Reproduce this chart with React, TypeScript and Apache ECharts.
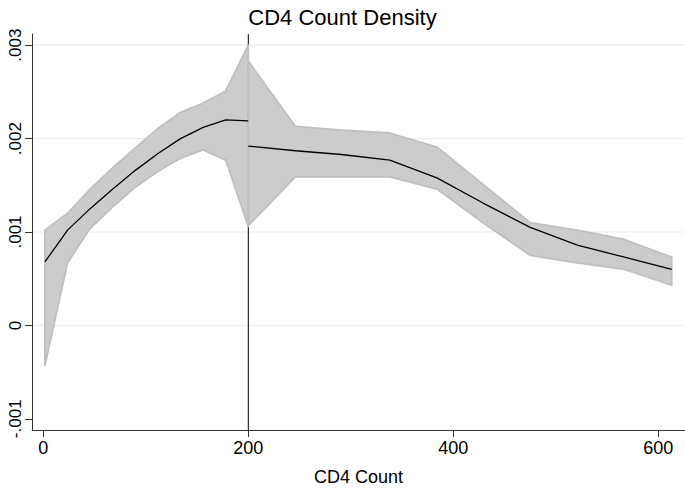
import React, { useEffect, useRef } from "react";
import * as echarts from "echarts";

const TITLE = "CD4 Count Density";
const X_NAME = "CD4 Count";
const X_TICKS = [0, 200, 400, 600];
const Y_TICKS = [-0.001, 0, 0.001, 0.002, 0.003];
const Y_TICK_LABELS = ["-.001", "0", ".001", ".002", ".003"];
const GRID_VALUES = [0, 0.001, 0.002, 0.003];
const CUTOFF = 200;

// left of cutoff
const LEFT_X = [1.6, 23.7, 45.7, 67.8, 89.8, 111.9, 133.9, 156.0, 178.0, 200];
const LEFT_FIT = [0.00068, 0.00102, 0.00125, 0.00146, 0.00166, 0.00184, 0.002, 0.00212, 0.0022, 0.00219];
const LEFT_UPPER = [0.00102, 0.0012, 0.00146, 0.00169, 0.0019, 0.00211, 0.00228, 0.00238, 0.00251, 0.003];
const LEFT_LOWER = [-0.00043, 0.00067, 0.00104, 0.00127, 0.00148, 0.00165, 0.00179, 0.00188, 0.00177, 0.00106];

// right of cutoff
const RIGHT_X = [200, 246, 291, 338, 384, 429, 475, 521, 567, 613];
const RIGHT_FIT = [0.00192, 0.00187, 0.00183, 0.00177, 0.00158, 0.00131, 0.00105, 0.00086, 0.00073, 0.0006];
const RIGHT_UPPER = [0.00283, 0.00213, 0.00209, 0.00206, 0.00191, 0.00151, 0.0011, 0.00102, 0.00092, 0.00073];
const RIGHT_LOWER = [0.00107, 0.00159, 0.00159, 0.00159, 0.00146, 0.0011, 0.00075, 0.00067, 0.0006, 0.00043];

const X_MIN = -11;
const X_MAX = 626;
const Y_MIN = -0.00112;
const Y_MAX = 0.00312;

const FONT = "Liberation Sans, Arial, Helvetica, sans-serif";

function pairs(xs: number[], ys: number[]) {
  return xs.map((x, i) => [x, ys[i]]);
}

export default function App() {
  const ref = useRef<HTMLDivElement>(null);

  useEffect(() => {
    if (!ref.current) return;
    const chart = echarts.init(ref.current, undefined, { renderer: "svg" });
    const bands = [
      { xs: LEFT_X, up: LEFT_UPPER, lo: LEFT_LOWER },
      { xs: RIGHT_X, up: RIGHT_UPPER, lo: RIGHT_LOWER },
    ];
    const option: any = {
      animation: false,
      backgroundColor: "#ffffff",
      textStyle: { fontFamily: FONT },
      title: {
        text: TITLE,
        left: "center",
        top: 1,
        textStyle: { fontSize: 22, fontWeight: "normal", color: "#000", fontFamily: FONT },
      },
      grid: { left: 32, right: 0, top: 34, bottom: 53, containLabel: false },
      xAxis: {
        type: "value",
        min: X_MIN,
        max: X_MAX,
        name: X_NAME,
        nameLocation: "middle",
        nameGap: 38,
        nameTextStyle: { fontSize: 18, color: "#000", fontFamily: FONT },
        axisLine: { show: true, onZero: false, lineStyle: { color: "#333", width: 1 } },
        axisTick: { show: true, customValues: X_TICKS, length: 7, lineStyle: { color: "#333" } },
        axisLabel: {
          customValues: X_TICKS,
          fontSize: 18,
          color: "#000",
          margin: 9,
          fontFamily: FONT,
          formatter: (v: number) => String(Math.round(v)),
        },
        splitLine: { show: false },
      },
      yAxis: {
        type: "value",
        min: Y_MIN,
        max: Y_MAX,
        axisLine: { show: true, onZero: false, lineStyle: { color: "#333", width: 1 } },
        axisTick: { show: true, customValues: Y_TICKS, length: 7, lineStyle: { color: "#333" } },
        axisLabel: {
          customValues: Y_TICKS,
          rotate: 90,
          fontSize: 17,
          color: "#000",
          margin: 8,
          fontFamily: FONT,
          formatter: (v: number) => {
            let best = 0;
            Y_TICKS.forEach((t, i) => {
              if (Math.abs(t - v) < Math.abs(Y_TICKS[best] - v)) best = i;
            });
            return Y_TICK_LABELS[best];
          },
        },
        splitLine: { show: false },
      },
      series: [
        {
          type: "custom",
          z: 0,
          silent: true,
          data: GRID_VALUES.map((v) => [X_MIN, v]),
          encode: { x: 0, y: 1 },
          renderItem: (params: any, api: any) => {
            const v = api.value(1);
            const a = api.coord([X_MIN, v]);
            const b = api.coord([X_MAX, v]);
            return {
              type: "line",
              shape: { x1: a[0], y1: a[1], x2: b[0], y2: b[1] },
              style: { stroke: "#e4eef1", lineWidth: 1.2 },
            };
          },
        },
        {
          type: "custom",
          z: 1,
          silent: true,
          data: [[CUTOFF, Y_MIN]],
          encode: { x: 0, y: 1 },
          renderItem: (params: any, api: any) => {
            const a = api.coord([CUTOFF, Y_MIN]);
            const b = api.coord([CUTOFF, Y_MAX]);
            return {
              type: "line",
              shape: { x1: a[0], y1: a[1], x2: b[0], y2: b[1] },
              style: { stroke: "#000", lineWidth: 1 },
            };
          },
        },
        {
          type: "custom",
          z: 2,
          data: [[LEFT_X[0], 0], [RIGHT_X[0], 0]],
          encode: { x: 0, y: 1 },
          renderItem: (params: any, api: any) => {
            const b = bands[params.dataIndex];
            const pts: number[][] = [];
            b.xs.forEach((x, i) => pts.push(api.coord([x, b.up[i]])));
            for (let i = b.xs.length - 1; i >= 0; i--) pts.push(api.coord([b.xs[i], b.lo[i]]));
            return {
              type: "polygon",
              shape: { points: pts },
              style: { fill: "#cccccc", stroke: "#bfbfbf", lineWidth: 1.8, lineJoin: "round" },
            };
          },
        },
        {
          type: "line",
          z: 3,
          data: pairs(LEFT_X, LEFT_FIT),
          showSymbol: false,
          symbol: "none",
          lineStyle: { color: "#000", width: 1.3 },
        },
        {
          type: "line",
          z: 3,
          data: pairs(RIGHT_X, RIGHT_FIT),
          showSymbol: false,
          symbol: "none",
          lineStyle: { color: "#000", width: 1.3 },
        },
      ],
    };
    chart.setOption(option);
    return () => chart.dispose();
  }, []);

  return (
    <div
      ref={ref}
      style={{ position: "fixed", left: 0, top: 0, width: 685, height: 491, background: "#fff" }}
    />
  );
}
